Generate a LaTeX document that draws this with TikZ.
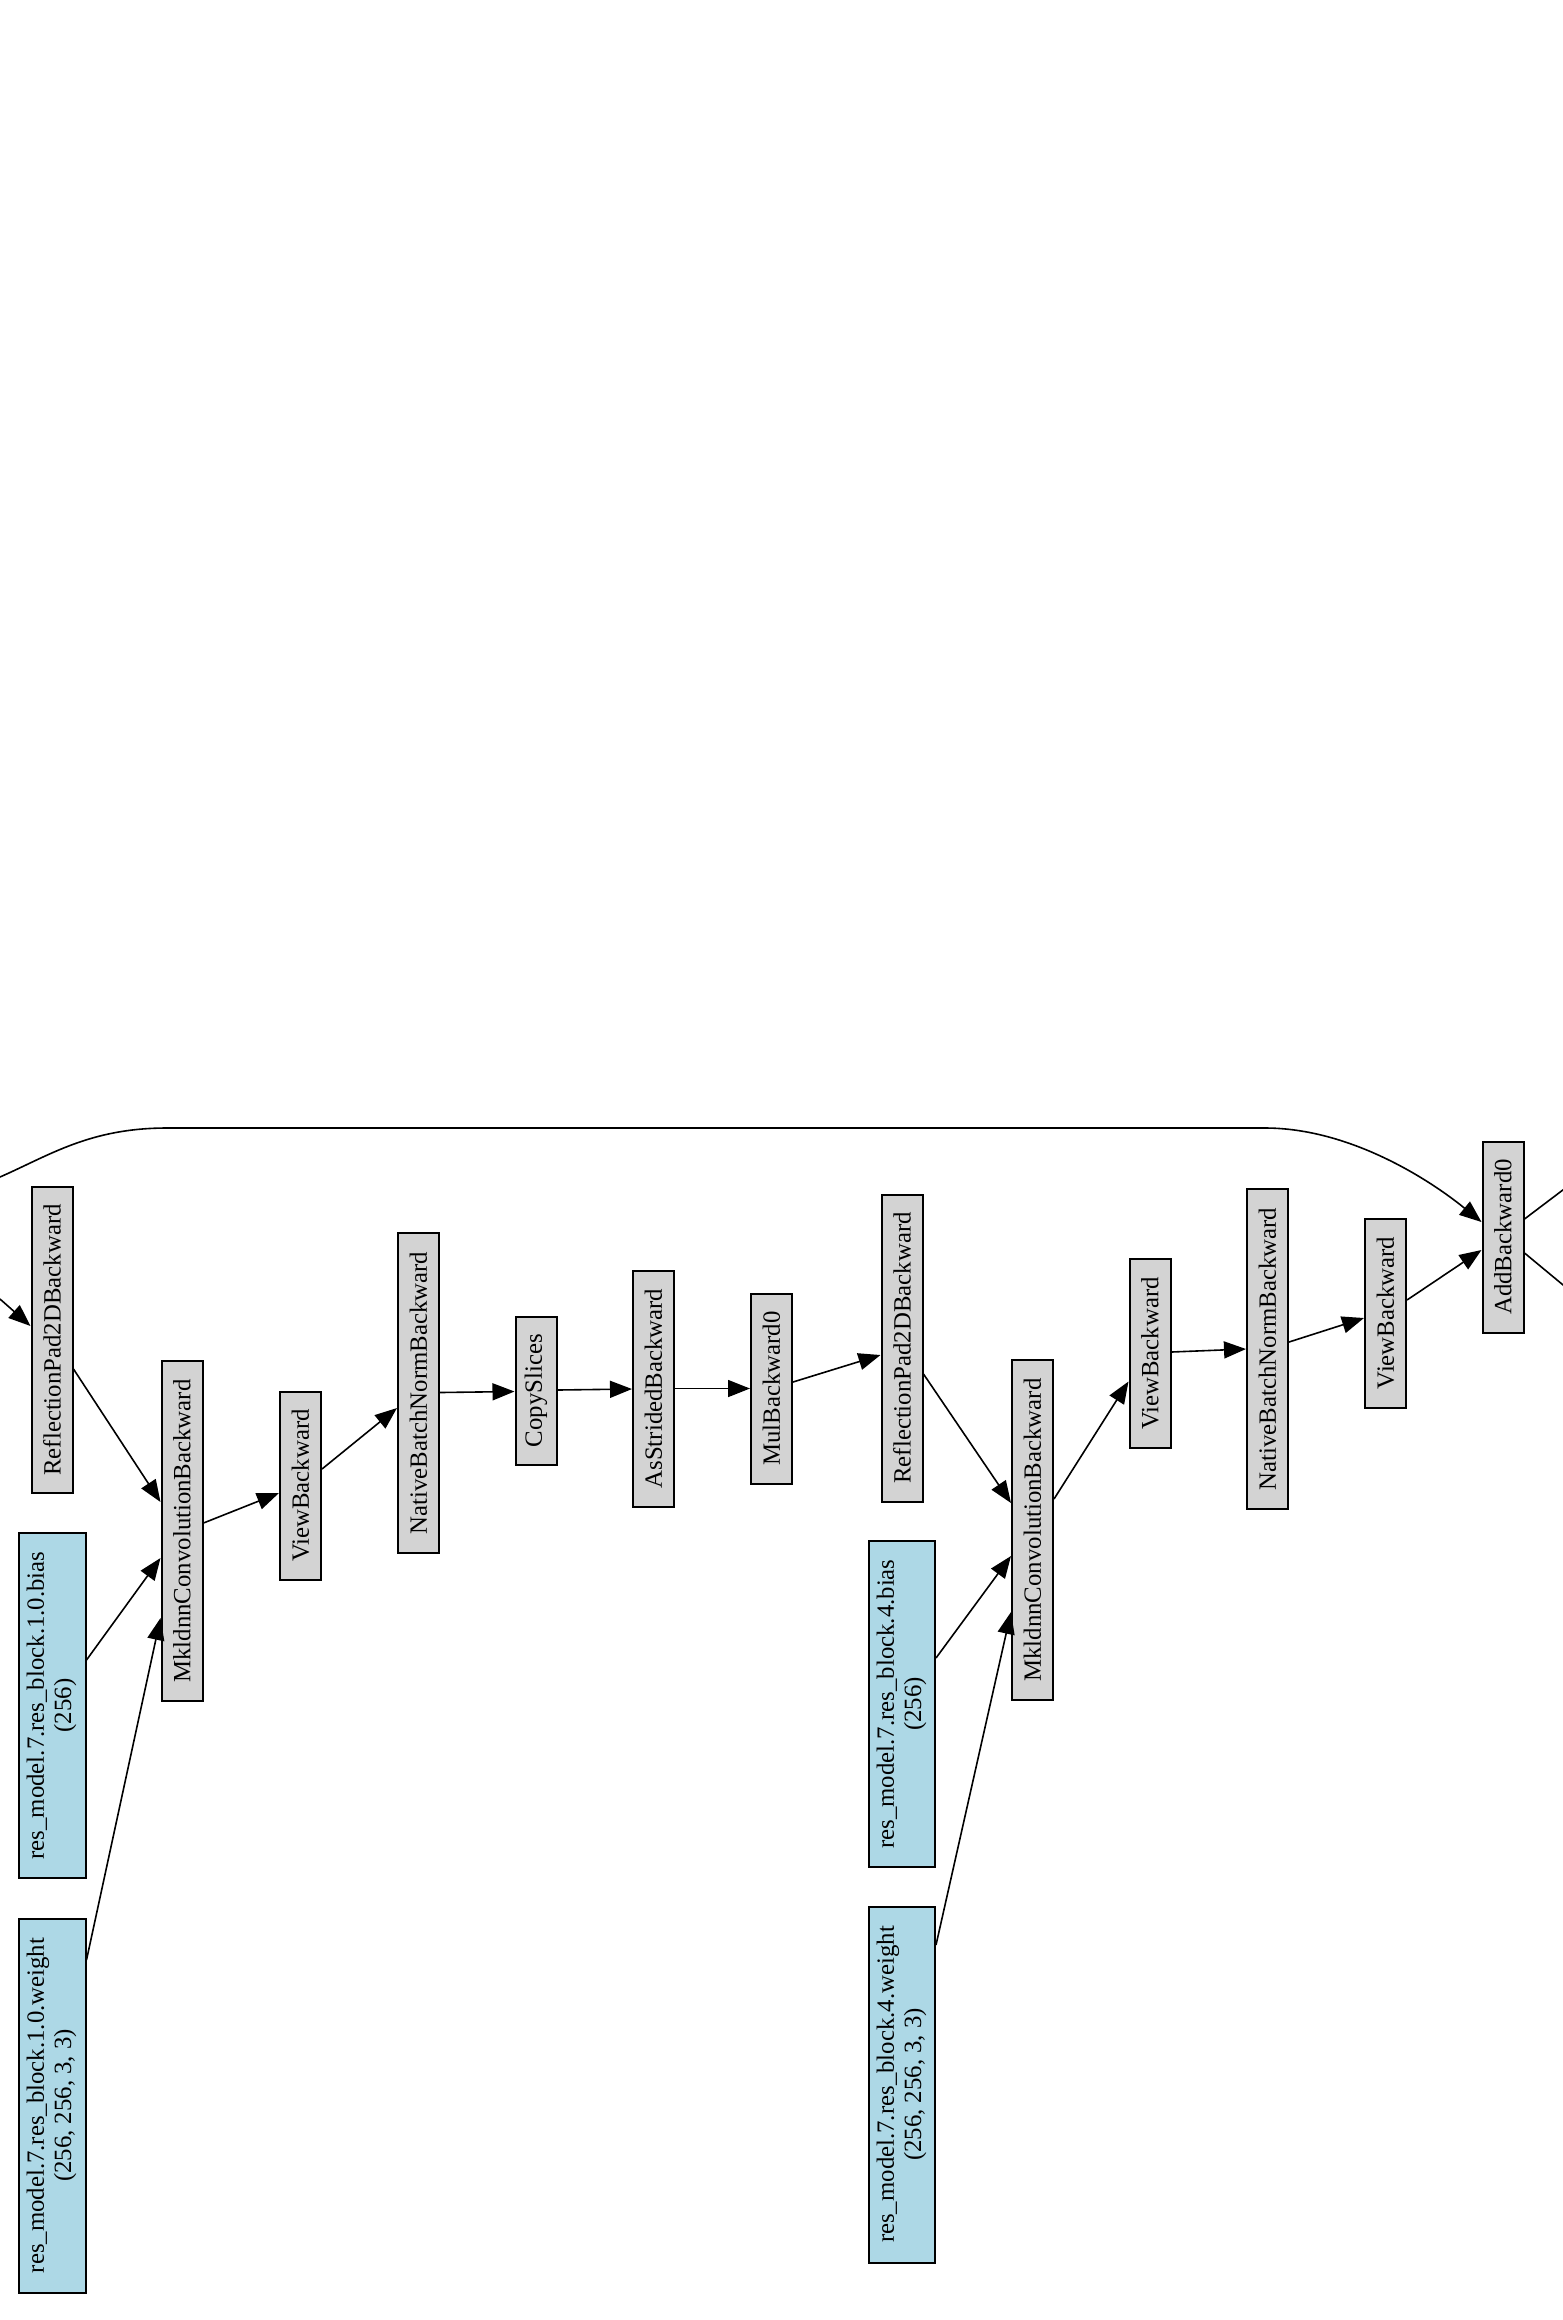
\documentclass[tikz,border=0pt]{standalone}
\usepackage{fontspec}
\setmainfont{Liberation Serif}
\usetikzlibrary{arrows.meta}
\definecolor{gfill}{HTML}{D3D3D3}
\definecolor{pfill}{HTML}{ADD8E6}
\begin{document}
\begin{tikzpicture}[x=0.5pt,y=-0.5pt,
  gnode/.style={draw=black, line width=1pt, fill=gfill, inner sep=0pt,
    font=\fontsize{12.4}{13.6}\selectfont},
  pnode/.style={gnode, fill=pfill},
  edge/.style={line width=0.8pt, -{Triangle[length=11pt,width=8.5pt]}},
  plain/.style={line width=0.8pt}]
\useasboundingbox (0,0) rectangle (1563,2320);
% nodes
\node[gnode, minimum width=20.5pt, minimum height=153pt] (rp1) at (52,1340) {\rotatebox{90}{ReflectionPad2DBackward}};
\node[pnode, minimum width=33.5pt, minimum height=172.5pt] (b1) at (52,1705.5) {\rotatebox{90}{\begin{tabular}{@{}c@{}}res\_model.7.res\_block.1.0.bias\\(256)\end{tabular}}};
\node[pnode, minimum width=33.5pt, minimum height=187pt] (w1) at (52,2105.5) {\rotatebox{90}{\begin{tabular}{@{}c@{}}res\_model.7.res\_block.1.0.weight\\(256, 256, 3, 3)\end{tabular}}};
\node[gnode, minimum width=20.5pt, minimum height=170pt] (mk1) at (182,1531) {\rotatebox{90}{MkldnnConvolutionBackward}};
\node[gnode, minimum width=20.5pt, minimum height=94pt] (vb1) at (300.5,1485.5) {\rotatebox{90}{ViewBackward}};
\node[gnode, minimum width=20.5pt, minimum height=160pt] (nbn1) at (418.5,1393) {\rotatebox{90}{NativeBatchNormBackward}};
\node[gnode, minimum width=20.5pt, minimum height=74pt] (cs) at (536,1390.5) {\rotatebox{90}{CopySlices}};
\node[gnode, minimum width=20.5pt, minimum height=118pt] (as) at (653.5,1388.5) {\rotatebox{90}{AsStridedBackward}};
\node[gnode, minimum width=20.5pt, minimum height=95pt] (mul) at (771.5,1388.5) {\rotatebox{90}{MulBackward0}};
\node[gnode, minimum width=20.5pt, minimum height=153.5pt] (rp2) at (902,1348) {\rotatebox{90}{ReflectionPad2DBackward}};
\node[pnode, minimum width=33pt, minimum height=163pt] (b4) at (902,1704) {\rotatebox{90}{\begin{tabular}{@{}c@{}}res\_model.7.res\_block.4.bias\\(256)\end{tabular}}};
\node[pnode, minimum width=33pt, minimum height=178pt] (w4) at (902,2084.5) {\rotatebox{90}{\begin{tabular}{@{}c@{}}res\_model.7.res\_block.4.weight\\(256, 256, 3, 3)\end{tabular}}};
\node[gnode, minimum width=20.5pt, minimum height=170pt] (mk2) at (1032.5,1530) {\rotatebox{90}{MkldnnConvolutionBackward}};
\node[gnode, minimum width=20.5pt, minimum height=94.5pt] (vb2) at (1150,1353.5) {\rotatebox{90}{ViewBackward}};
\node[gnode, minimum width=20.5pt, minimum height=160pt] (nbn2) at (1267.5,1349) {\rotatebox{90}{NativeBatchNormBackward}};
\node[gnode, minimum width=20.5pt, minimum height=94.5pt] (vb3) at (1385.5,1313) {\rotatebox{90}{ViewBackward}};
\node[gnode, minimum width=20.5pt, minimum height=95.5pt] (add) at (1503,1237) {\rotatebox{90}{AddBackward0}};
% free ends
\coordinate (inA) at (0,1299);
\coordinate (topA) at (0,1177);
\coordinate (outA) at (1580,1177);
\coordinate (outB) at (1580,1299);
% edges
\draw[edge] (inA) -- ([shift={(0,-14)}]rp1.west);
\draw[edge] (topA) .. controls (50,1155) and (90,1128) .. (167,1128) -- (1265,1128) .. controls (1350,1128) and (1430,1180) .. ([shift={(0,-15)}]add.west);
\draw[edge] ([shift={(0,29)}]rp1.east) -- ([shift={(0,-29)}]mk1.west);
\draw[edge] ([shift={(0,-45.5)}]b1.east) -- ([shift={(0,27)}]mk1.west);
\draw[edge] ([shift={(0,-145.5)}]w1.east) -- ([shift={(0,87)}]mk1.west);
\draw[edge] ([shift={(0,-8)}]mk1.east) -- ([shift={(0,7.5)}]vb1.west);
\draw[edge] ([shift={(0,-16.5)}]vb1.east) -- ([shift={(0,15)}]nbn1.west);
\draw[edge] ([shift={(0,-0.5)}]nbn1.east) -- ([shift={(0,1)}]cs.west);
\draw[edge] ([shift={(0,-0.5)}]cs.east) -- ([shift={(0,0.5)}]as.west);
\draw[edge] (as.east) -- (mul.west);
\draw[edge] ([shift={(0,-6.5)}]mul.east) -- ([shift={(0,7)}]rp2.west);
\draw[edge] ([shift={(0,26)}]rp2.east) -- ([shift={(0,-27)}]mk2.west);
\draw[edge] ([shift={(0,-46)}]b4.east) -- ([shift={(0,26)}]mk2.west);
\draw[edge] ([shift={(0,-139.5)}]w4.east) -- ([shift={(0,82)}]mk2.west);
\draw[edge] ([shift={(0,-31)}]mk2.east) -- ([shift={(0,28)}]vb2.west);
\draw[edge] ([shift={(0,-1.5)}]vb2.east) -- (nbn2.west);
\draw[edge] ([shift={(0,-7)}]nbn2.east) -- ([shift={(0,5)}]vb3.west);
\draw[edge] ([shift={(0,-13)}]vb3.east) -- ([shift={(0,13)}]add.west);
\draw[plain] ([shift={(0,-18)}]add.east) -- (outA);
\draw[plain] ([shift={(0,16)}]add.east) -- (outB);
\end{tikzpicture}
\end{document}
